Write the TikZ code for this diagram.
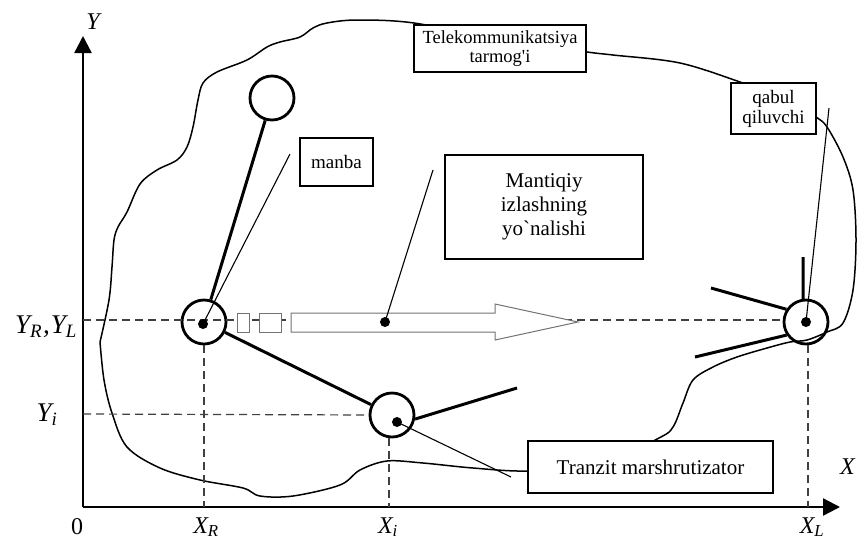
\documentclass[tikz,border=0pt]{standalone}
\usepackage{fontspec}
\setmainfont{Liberation Serif}[Ligatures=TeXOff]
\usetikzlibrary{arrows.meta}
\begin{document}
\begin{tikzpicture}[x=1pt,y=-1pt,
  dev/.style={circle, draw, line width=2.8pt, minimum size=44pt, inner sep=0pt},
  dotn/.style={circle, fill, minimum size=10pt, inner sep=0pt},
  box/.style={draw, line width=1.2pt, fill=white, align=center, inner sep=0pt},
  thickln/.style={line width=3pt},
  thinln/.style={line width=1.1pt},
  dashln/.style={dash pattern=on 8pt off 5pt, line width=1.2pt, black!75},
  axis/.style={line width=2.4pt, -{Triangle[length=17pt,width=17pt]}},
  cloud/.style={line width=1.5pt},
  arrowln/.style={line width=1pt, black!55, fill=white},
  axlbl/.style={font=\fontsize{24}{24}\selectfont\itshape},
  axlblb/.style={font=\fontsize{27}{27}\selectfont\itshape}
]
\useasboundingbox (0,0) rectangle (857,542);

% cloud (network)
\draw[cloud] plot[smooth, tension=0.55] coordinates {(100,342) (109,300) (112,267) (114,240) (118,227) (127,212) (140,184) (157,170) (177,160) (187,147) (193,127) (198,100) (203,83) (217,72) (247,60) (267,47) (280,42) (300,37) (313,28) (327,23) (357,20) (414,23) (500,40) (587,52) (613,55) (680,63) (743,83) (790,100) (816,117) (827,127) (843,157) (853,190) (856,240) (853,290) (843,323) (827,332) (807,340) (790,342) (767,348) (737,357) (713,367) (693,380) (683,403) (673,427) (659,438) (600,465) (528,471) (473,468) (423,463) (387,461) (360,470) (340,485) (293,496) (260,496) (243,488) (200,480) (160,468) (127,447) (112,413) (104,380) (100,342)};

% axes
\coordinate (O) at (83,507);
\coordinate (Ytip) at (83,36);
\coordinate (Xtip) at (840,507);
\draw[axis] (O) -- (Ytip);
\draw[axis] (O) -- (Xtip);

% devices
\node[dev] (T) at (272,98) {};
\node[dev] (R) at (204,322) {};
\node[dev] (Xi) at (392,415) {};
\node[dev] (XL) at (806,322) {};

% dashed guides
\coordinate (yl) at (83,320);
\coordinate (yr) at (784,320);
\draw[dashln] (yl) -- (yr);
\coordinate (yi0) at (83,414);
\draw[dashln] (yi0) -- (Xi.west);
\draw[dashln] (R.south) -- (R.south |- O);
\draw[dashln] ([xshift=-3pt]Xi.south) -- ([xshift=-3pt]Xi.south |- O);
\draw[dashln] ([xshift=2pt]XL.south) -- ([xshift=2pt]XL.south |- O);

% search direction arrow
\draw[arrowln] (237,313) rectangle (249,332);
\draw[arrowln] (259,313) rectangle (281,332);
\draw[arrowln] (291,313) -- (495,313) -- (495,304) -- (578,322) -- (495,340) -- (495,332) -- (291,332) -- cycle;

% dots
\node[dotn] (dR) at (203,324) {};
\node[dotn] (dXi) at (397,422) {};
\node[dotn] (dXL) at (806,322) {};
\node[dotn] (dA) at (385,322) {};

% thick links
\draw[thickln] (R) -- (T);
\draw[thickln] (R) -- (Xi);
\coordinate (xe) at (517,388);
\draw[thickln] (Xi.-10) -- (xe);
\coordinate (v1) at (803,257);
\draw[thickln] (XL.97) -- (v1);
\coordinate (l1) at (711,288);
\draw[thickln] (XL.147) -- (l1);
\coordinate (l2) at (695,357);
\draw[thickln] (XL.214) -- (l2);

% boxes
\node[box, minimum width=172pt, minimum height=47pt, font=\fontsize{18.5}{19}\selectfont] (tel) at (500,48.5) {Telekommunikatsiya\\tarmog'i};
\node[box, minimum width=73pt, minimum height=48pt, font=\fontsize{19}{20}\selectfont] (man) at (336.5,162) {manba};
\node[box, minimum width=198pt, minimum height=104pt, font=\fontsize{21}{24}\selectfont] (mant) at (544,207) {Mantiqiy\\izlashning\\yo`nalishi};
\node[box, minimum width=85pt, minimum height=51pt, font=\fontsize{19}{20}\selectfont] (qab) at (773.5,108.5) {qabul\\qiluvchi};
\node[box, minimum width=245pt, minimum height=52pt, font=\fontsize{21}{22}\selectfont] (tr) at (650.5,467) {Tranzit marshrutizator};

% thin pointer lines
\coordinate (m1) at (290,154);
\draw[thinln] (m1) -- (dR.center);
\coordinate (a1) at (433,170);
\draw[thinln] (a1) -- (dA.center);
\coordinate (q1) at (829,108);
\draw[thinln] (q1) -- (dXL.center);
\coordinate (t1) at (511,477);
\draw[thinln] (dXi.center) -- (t1);

% axis labels
\node[axlbl] (Ylab) at (93,22) {Y};
\node[axlbl, anchor=west, inner sep=0pt] (Xlab) at (840,467) {X};
\node[axlblb] (YRL) at (46,327) {Y\textsubscript{R}\kern1pt,\kern1pt Y\textsubscript{L}};
\node[axlblb] (Yilab) at (47,415) {Y\textsubscript{i}};
\node[font=\fontsize{24}{24}\selectfont, anchor=base] (zero) at (77,534) {0};
\node[axlbl, anchor=base] (XRlab) at (206,533) {X\textsubscript{R}};
\node[axlbl, anchor=base] (Xilab) at (388,533) {X\textsubscript{i}};
\node[axlbl, anchor=base] (XLlab) at (812,533) {X\textsubscript{L}};
\end{tikzpicture}
\end{document}
